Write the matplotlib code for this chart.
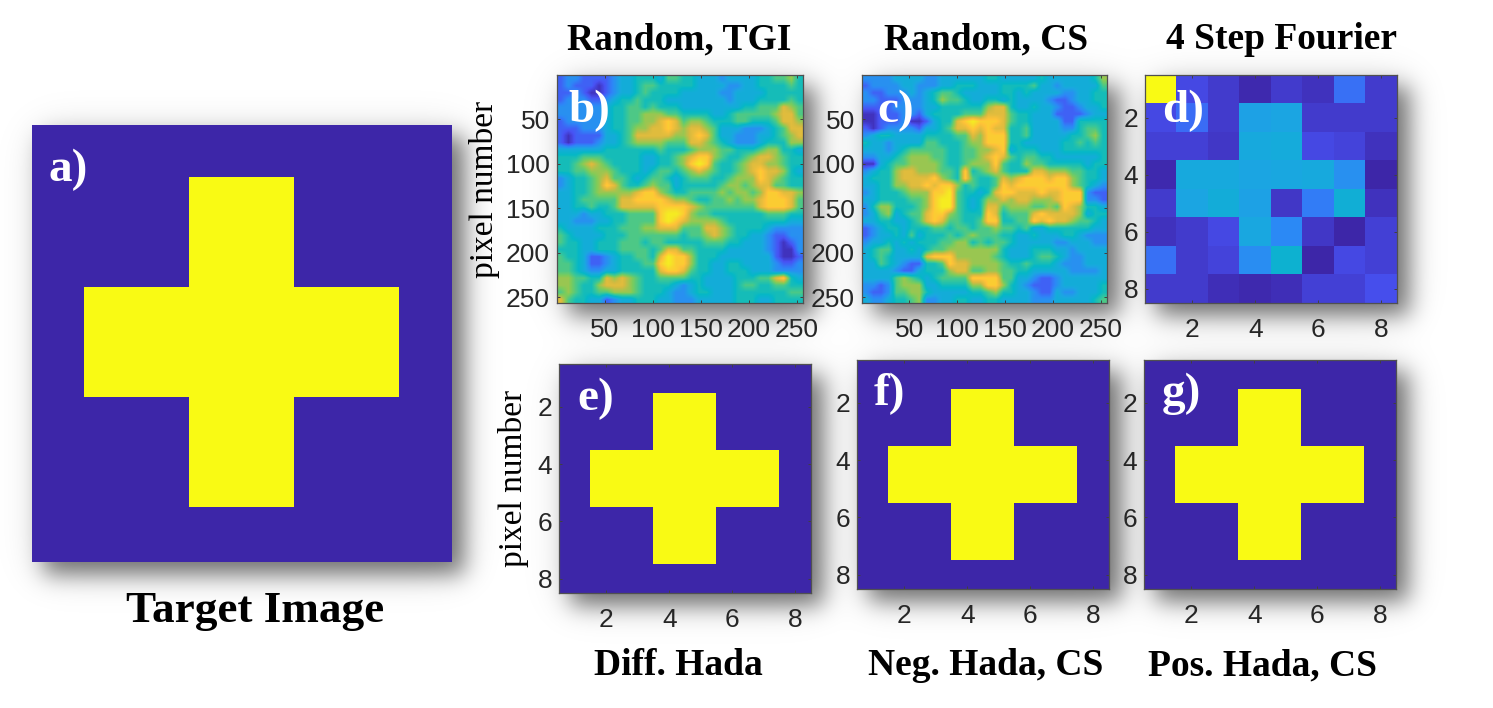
import numpy as np
import matplotlib
matplotlib.use("Agg")
import matplotlib.pyplot as plt
from matplotlib.colors import LinearSegmentedColormap

W, H = 1493, 708

# parula anchor colours
parula_colors = [
    (0.0, (0.2422, 0.1504, 0.6603)),
    (0.1, (0.2810, 0.3228, 0.9579)),
    (0.2, (0.1786, 0.5289, 0.9682)),
    (0.3, (0.1000, 0.6600, 0.8800)),
    (0.4, (0.0200, 0.7200, 0.7800)),
    (0.5, (0.2200, 0.7800, 0.6000)),
    (0.6, (0.5000, 0.8000, 0.3500)),
    (0.7, (0.8300, 0.7300, 0.2500)),
    (0.8, (1.0000, 0.7600, 0.2200)),
    (0.9, (0.9600, 0.9000, 0.1500)),
    (1.0, (0.9769, 0.9839, 0.0805)),
]
parula = LinearSegmentedColormap.from_list("parula", parula_colors)

target_rows = [
    "00000000",
    "00011000",
    "00011000",
    "01111110",
    "01111110",
    "00011000",
    "00011000",
    "00000000",
]

# levels, 0 = darkest blue, 9 = yellow
random_tgi_rows = [
    "1221 1112 3344 4355 4433 3233 3344 5564",
    "1211 1012 3345 5444 4433 3322 3344 4454",
    "1121 0012 3345 4444 3333 3223 3334 4444",
    "1222 1123 4454 4433 3333 3323 3344 4454",
    "2222 2234 4554 5444 3333 3333 4455 5765",
    "2222 2234 4556 6655 4444 3345 5555 6775",
    "1222 2234 4556 6787 5665 4445 5444 5776",
    "1112 2234 4566 7787 6776 5333 2223 4577",
    "1011 1133 4577 7776 6787 5332 2233 4567",
    "1011 1233 4566 6655 5776 5432 2234 4466",
    "3333 3344 4444 4544 4566 6554 4456 6443",
    "4445 5544 4443 3445 6788 6544 5677 6544",
    "4456 7654 4443 3445 6898 5445 6776 6544",
    "4455 6665 4443 4554 5676 5445 6787 7643",
    "2344 5675 5434 5543 4555 4456 6687 6544",
    "2344 5687 5445 6553 4444 4566 5677 5544",
    "3344 5666 6678 8654 4555 5656 6568 8776",
    "3345 5555 7788 8876 6544 5565 6678 8875",
    "3344 5445 7777 7888 8765 5555 5578 8875",
    "3332 3344 4555 5899 8655 4444 4445 5544",
    "3322 2334 4555 5898 7666 6544 4444 4433",
    "4333 3444 5556 6777 5557 7654 4443 2222",
    "5433 3344 4555 5555 4556 7654 4332 1122",
    "5443 3444 5554 5544 4445 5544 3332 1012",
    "4443 3444 5555 4577 5544 4433 3332 1002",
    "5443 1123 4455 4798 8644 4333 3333 1001",
    "5543 1123 4445 5898 8644 3344 3333 2112",
    "5543 2233 4444 4788 7544 3344 4333 2222",
    "6655 4476 7654 4555 5443 3334 4455 7843",
    "6654 4677 7654 4443 2343 3334 5544 5544",
    "5654 4556 6654 4432 2344 3334 4444 4455",
    "7544 3312 3344 4332 2233 3334 4433 4444",
]

random_cs_rows = [
    "2222 3333 2233 3333 4433 3334 3333 3346",
    "1222 2332 2233 4443 3344 4453 3233 3335",
    "2112 2232 3455 4333 3344 3433 3322 3344",
    "2211 1222 3465 5433 4434 3333 2112 3344",
    "1111 2222 3344 4444 6774 3343 3211 2334",
    "0011 1221 3444 4555 7775 4433 3111 1233",
    "0011 1200 1344 7898 8875 4433 3311 4444",
    "1012 2221 3345 7787 8774 4533 3322 4554",
    "2344 3333 4444 5576 8884 4533 3334 4564",
    "4332 3333 5544 4566 8884 4333 3344 5454",
    "3332 3455 5554 4556 6783 4443 3344 4444",
    "2233 4566 6554 4556 7875 4554 4333 3334",
    "0034 5566 6654 4566 6854 4655 4444 4344",
    "2344 6776 6655 4845 6754 4477 6665 5443",
    "3444 6777 7865 4854 4576 7888 7886 5443",
    "3344 6677 8788 6454 4587 8888 8886 5432",
    "2344 4566 6889 5443 4788 7778 7788 8211",
    "3344 4455 6899 5434 6676 7766 6788 8221",
    "2466 4445 6899 5434 7756 6655 6587 6443",
    "2356 3455 7886 5444 8745 5578 7777 6344",
    "3344 3345 7875 5445 8844 5587 8776 5543",
    "1234 4344 4554 5545 5655 4533 4444 4433",
    "1233 4353 4445 4565 5544 3343 3344 3222",
    "2334 3434 4455 6645 4554 3333 3223 3322",
    "3455 3343 4556 6666 6643 3344 4332 3333",
    "3454 3333 7888 6666 6543 3345 5432 2333",
    "3354 3211 4458 7766 6654 4544 4322 2333",
    "3333 2113 4446 7755 6655 4433 3332 2223",
    "3333 5654 3455 5588 8855 3321 1233 3333",
    "2212 5666 3344 4466 8864 3211 1233 3334",
    "2112 5566 4333 3344 5644 3321 1322 3334",
    "3223 4456 2233 4433 4433 3322 2333 3345",
]

fourier_values = [
    [1.00, 0.08, 0.05, 0.01, 0.05, 0.03, 0.16, 0.05],
    [0.08, 0.15, 0.05, 0.28, 0.29, 0.05, 0.05, 0.05],
    [0.06, 0.06, 0.04, 0.31, 0.32, 0.08, 0.07, 0.03],
    [0.01, 0.31, 0.31, 0.29, 0.30, 0.31, 0.23, 0.00],
    [0.05, 0.29, 0.33, 0.28, 0.04, 0.18, 0.34, 0.03],
    [0.03, 0.05, 0.08, 0.30, 0.21, 0.04, 0.00, 0.06],
    [0.16, 0.05, 0.07, 0.22, 0.36, 0.00, 0.08, 0.06],
    [0.05, 0.05, 0.02, 0.01, 0.02, 0.06, 0.06, 0.09],
]

random_ticks = [50, 100, 150, 200, 250]
hada_ticks = [2, 4, 6, 8]


def parse_rows(rows):
    return np.array([[int(c) for c in row if c != " "] for row in rows])


def frac_rect(box):
    # box is left, top, right, bottom in picture pixels
    x0, y0, x1, y1 = box
    return [x0 / W, 1 - y1 / H, (x1 - x0) / W, (y1 - y0) / H]


def blur(img, sigma):
    r = int(3 * sigma)
    k = np.exp(-0.5 * (np.arange(-r, r + 1) / sigma) ** 2)
    k /= k.sum()
    img = np.apply_along_axis(lambda v: np.convolve(v, k, mode="same"), 0, img)
    img = np.apply_along_axis(lambda v: np.convolve(v, k, mode="same"), 1, img)
    return img


def put_text(x, y, s, **kw):
    return fig.text(x / W, 1 - y / H, s, **kw)


# panel boxes
box_a = (32, 125, 452, 562)
box_b = (557, 75, 803, 303)
box_c = (862, 75, 1107, 303)
box_d = (1145, 75, 1397, 303)
box_e = (559, 364, 811, 593)
box_f = (857, 360, 1109, 589)
box_g = (1144, 360, 1396, 589)
panel_boxes = [box_a, box_b, box_c, box_d, box_e, box_f, box_g]

plt.rcParams["font.family"] = ["Liberation Sans"]
serif = "Liberation Serif"

fig = plt.figure(figsize=(W / 100, H / 100), dpi=100, facecolor="white")


def shadow_layer(offset, sigma, alpha):
    layer = np.zeros((H, W))
    for x0, y0, x1, y1 in panel_boxes:
        layer[y0 + offset:y1 + offset, x0 + offset:x1 + offset] = 1
    return blur(layer, sigma) * alpha


# soft drop shadow behind the panels, plus a faint wide glow
shadow = 1 - (1 - shadow_layer(12, 11, 0.5)) * (1 - shadow_layer(8, 22, 0.16))
rgba = np.zeros((H, W, 4))
rgba[..., 3] = shadow
ax_bg = fig.add_axes([0, 0, 1, 1], zorder=0)
ax_bg.imshow(rgba, aspect="auto", interpolation="nearest")
ax_bg.axis("off")


def panel(box, data, vmin, vmax, extent=(0.5, 8.5, 8.5, 0.5), ticks=hada_ticks, interp="nearest"):
    ax = fig.add_axes(frac_rect(box), zorder=1)
    ax.imshow(data, cmap=parula, vmin=vmin, vmax=vmax, aspect="auto",
              interpolation=interp, extent=extent)
    ax.set_xticks(ticks)
    ax.set_yticks(ticks)
    ax.tick_params(direction="in", length=2.5, width=0.7, color="#404040",
                   top=True, right=True, labelsize=19, labelcolor="#262626")
    ax.tick_params(axis="x", pad=11)
    ax.tick_params(axis="y", pad=5)
    for s in ax.spines.values():
        s.set_color("#505050")
        s.set_linewidth(0.9)
    return ax


target = parse_rows(target_rows)
random_extent = (0.5, 256.5, 256.5, 0.5)

ax_a = fig.add_axes(frac_rect(box_a), zorder=1)
ax_a.imshow(target, cmap=parula, vmin=0, vmax=1, aspect="auto", interpolation="nearest",
            extent=(0.5, 8.5, 8.5, 0.5))
ax_a.set_ylim(8.5, 0.555)
ax_a.axis("off")

panel(box_b, parse_rows(random_tgi_rows), -0.3, 9.7, random_extent, random_ticks, "bilinear")
panel(box_c, parse_rows(random_cs_rows), -0.3, 9.7, random_extent, random_ticks, "bilinear")
panel(box_d, np.array(fourier_values), 0, 1)
panel(box_e, target, 0, 1)
panel(box_f, target, 0, 1)
panel(box_g, target, 0, 1)

title_kw = dict(family=serif, weight="bold", color="black", ha="center", va="baseline",
                fontsize=27, zorder=5)
put_text(679, 49, "Random, TGI", **title_kw)
put_text(986, 49, "Random, CS", **title_kw)
put_text(1281, 49, "4 Step Fourier", **title_kw)
put_text(678, 675, "Diff. Hada", **title_kw)
put_text(986, 675, "Neg. Hada, CS", **title_kw)
put_text(1263, 675, "Pos. Hada, CS", **title_kw)
put_text(255, 622, "Target Image", **{**title_kw, "fontsize": 32.5})

label_kw = dict(family=serif, weight="bold", color="white", ha="left", va="baseline",
                fontsize=34, zorder=5)
put_text(49, 181, "a)", **label_kw)
put_text(568, 122, "b)", **label_kw)
put_text(877, 122, "c)", **label_kw)
put_text(1162, 122, "d)", **label_kw)
put_text(577, 410, "e)", **label_kw)
put_text(874, 405, "f)", **label_kw)
put_text(1162, 405, "g)", **label_kw)

ylabel_kw = dict(family=serif, color="black", ha="center", va="baseline", rotation=90,
                 rotation_mode="anchor", fontsize=24, zorder=5)
put_text(493, 189, "pixel number", **ylabel_kw)
put_text(522, 478, "pixel number", **ylabel_kw)

fig.savefig("out.png", dpi=100)
